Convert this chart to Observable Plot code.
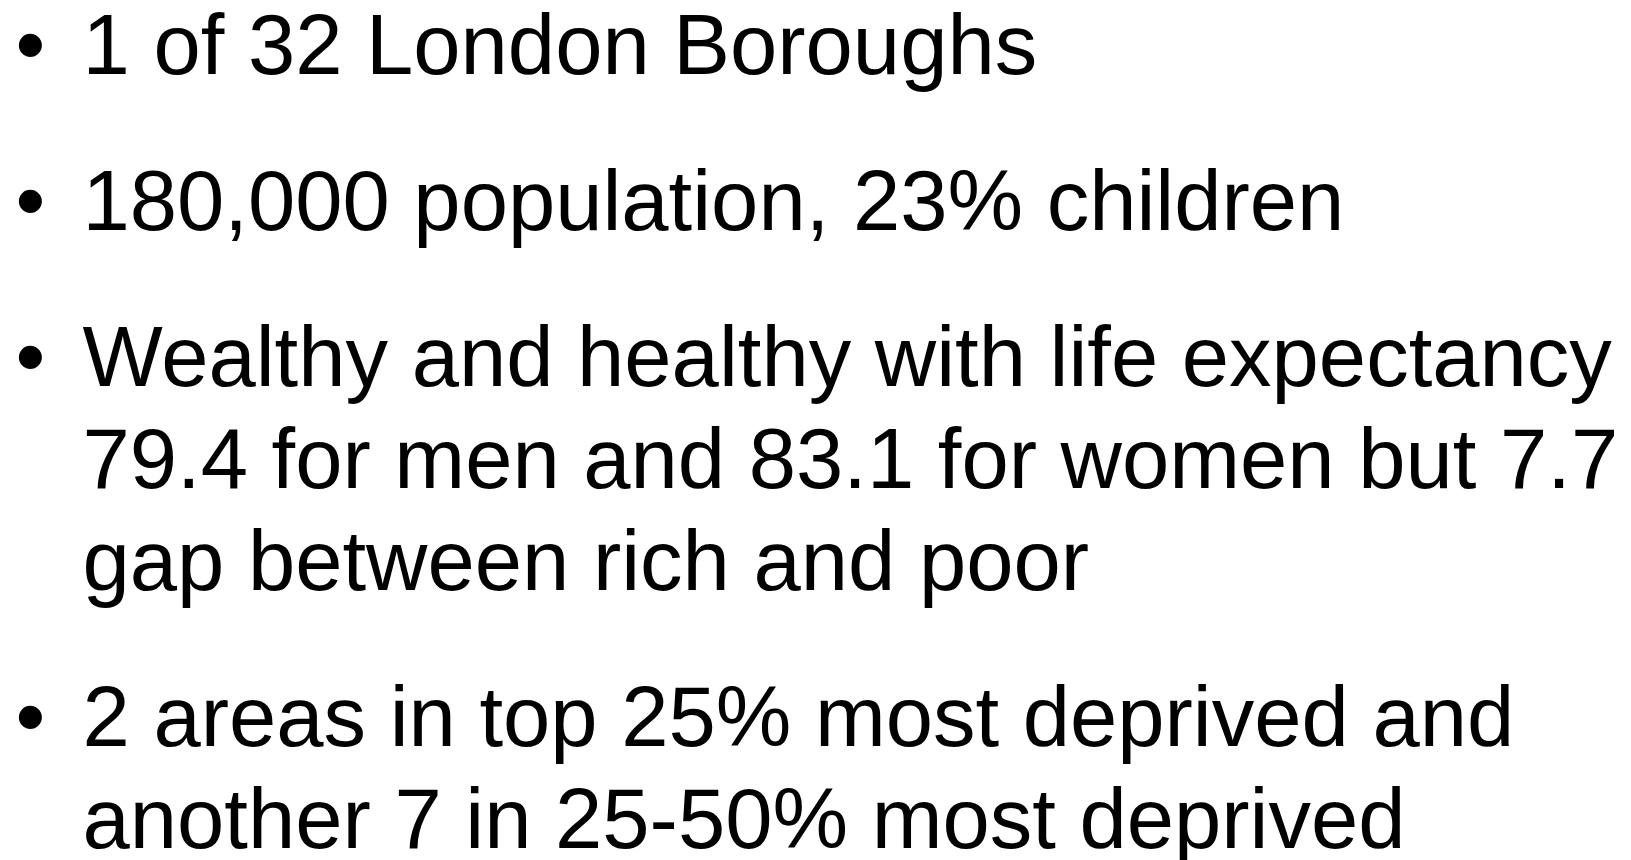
<!DOCTYPE html>
<html>
<head>
<meta charset="utf-8">
<script src="https://cdn.jsdelivr.net/npm/d3@7"></script>
<script src="https://cdn.jsdelivr.net/npm/@observablehq/plot@0.6"></script>
<style>
  html, body { margin: 0; padding: 0; background: #ffffff; }
  #chart svg { display: block; }
</style>
</head>
<body>
<div id="chart"></div>
<script>
// Bullet points (each inner list = one bullet, lines as wrapped on the slide)
const bullet1 = ["1 of 32 London Boroughs"];
const bullet2 = ["180,000 population, 23% children"];
const bullet3 = [
  "Wealthy and healthy with life expectancy",
  "79.4 for men and 83.1 for women but 7.7",
  "gap between rich and poor"
];
const bullet4 = [
  "2 areas in top 25% most deprived and",
  "another 7 in 25-50% most deprived"
];
const bullets = [bullet1, bullet2, bullet3, bullet4];

// Build rows: slot = running line count + extra paragraph spacing per bullet
const paraGap = 0.53;
const rows = [];
let count = 0;
bullets.forEach((lines, g) => {
  lines.forEach((t, i) => {
    rows.push({ text: t, group: g, first: i === 0, slot: count + g * paraGap });
    count++;
  });
});

const font = "'Liberation Sans', Arial, sans-serif";

const chart = Plot.plot({
  width: 1631,
  height: 860,
  margin: 0,
  style: { background: "#ffffff", color: "#000000", fontFamily: font },
  x: { type: "linear", domain: [0, 1], range: [15, 82], axis: null },
  y: { type: "linear", domain: [0, 1], range: [73, 175], axis: null },
  marks: [
    Plot.text(rows, {
      x: 1, y: "slot", text: "text",
      textAnchor: "start", lineAnchor: "bottom",
      fontSize: 85, fontFamily: font, fill: "#000000"
    }),
    Plot.text(rows.filter(d => d.first), {
      x: 0, y: "slot", text: () => "\u2022",
      textAnchor: "start", lineAnchor: "bottom",
      fontSize: 85, fontFamily: font, fill: "#000000"
    })
  ]
});
document.getElementById("chart").appendChild(chart);
</script>
</body>
</html>
